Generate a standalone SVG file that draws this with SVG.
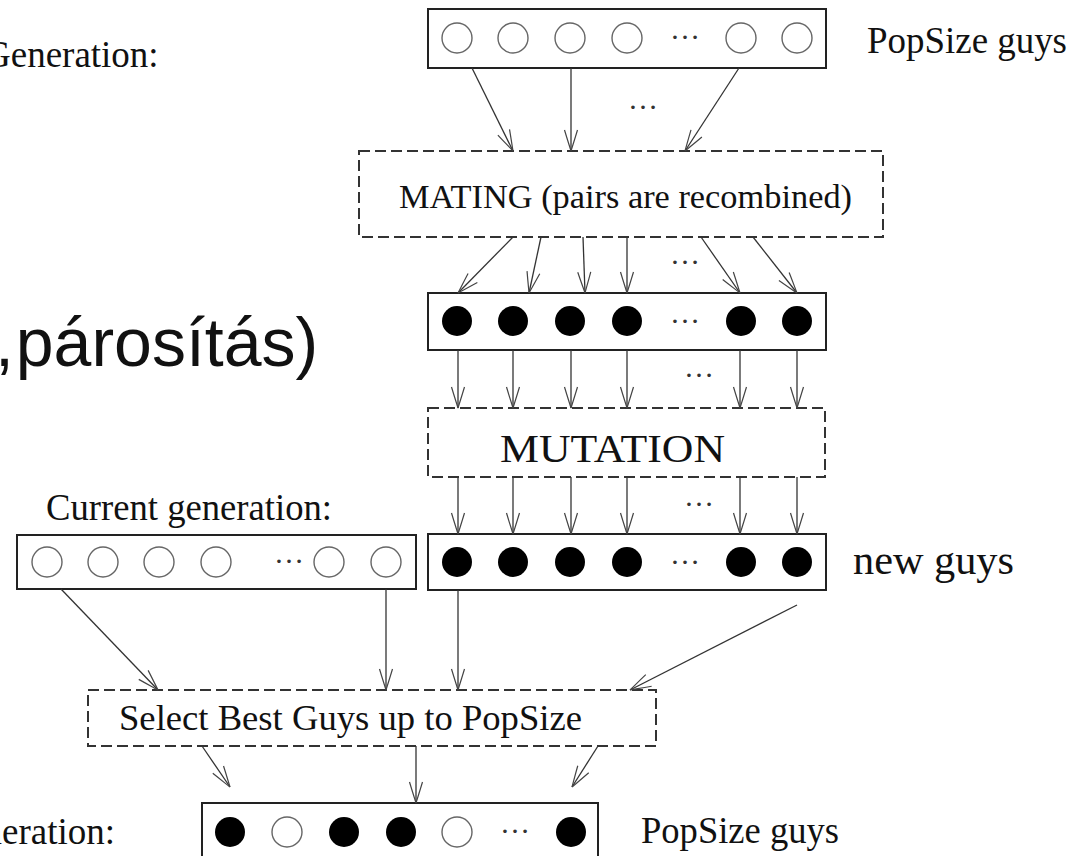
<svg xmlns="http://www.w3.org/2000/svg" width="1080" height="856" viewBox="0 0 1080 856">
<style>
.t{font-family:"Liberation Serif","Times New Roman",serif;fill:#111}
.s{font-family:"Liberation Sans",Arial,sans-serif;fill:#111}
.box{fill:#fff;stroke:#222;stroke-width:2}
.dbox{fill:#fff;stroke:#333;stroke-width:2;stroke-dasharray:11 5}
.e{fill:#fff;stroke:#666;stroke-width:1.4}
.f{fill:#000}
.c{stroke:#333;stroke-width:1.3;fill:none;marker-end:url(#ah)}
.d{font-family:"Liberation Serif",serif;font-size:30px;fill:#333;text-anchor:middle}
</style>
<defs>
<marker id="ah" markerUnits="userSpaceOnUse" viewBox="-24 -9 26 18" markerWidth="26" markerHeight="18" refX="0" refY="0" orient="auto" overflow="visible">
<path d="M-21,-6.5 C-11,-3.5 -4,-1.2 0,0 M-21,6.5 C-11,3.5 -4,1.2 0,0" fill="none" stroke="#444" stroke-width="1.2"/>
</marker>
</defs>
<rect width="1080" height="856" fill="#fff"/>

<g id="labels">
<text class="t" x="-16" y="67" font-size="37">Generation:</text>
<text class="s" x="-5" y="366" font-size="68" word-spacing="-17">, párosítás)</text>
<text class="t" x="46" y="520" font-size="37" textLength="286" lengthAdjust="spacingAndGlyphs">Current generation:</text>
<text class="t" x="115" y="844" font-size="37" text-anchor="end">Generation:</text>
</g>

<g id="pop-top">
<rect class="box" x="428" y="9" width="398" height="59"/>
<circle class="e" cx="457" cy="38" r="15"/>
<circle class="e" cx="513" cy="38" r="15"/>
<circle class="e" cx="570" cy="38" r="15"/>
<circle class="e" cx="627" cy="38" r="15"/>
<text class="d" x="685" y="39">…</text>
<circle class="e" cx="741" cy="38" r="15"/>
<circle class="e" cx="797" cy="38" r="15"/>
<text class="t" x="867" y="53" font-size="37" textLength="200" lengthAdjust="spacingAndGlyphs">PopSize guys</text>
</g>

<g id="mating">
<rect class="dbox" x="359" y="151" width="524" height="86"/>
<text class="t" x="399" y="208" font-size="34" textLength="453" lengthAdjust="spacingAndGlyphs">MATING (pairs are recombined)</text>
</g>

<g id="offspring">
<rect class="box" x="428" y="293" width="398" height="57"/>
<circle class="f" cx="457" cy="321" r="15"/>
<circle class="f" cx="513" cy="321" r="15"/>
<circle class="f" cx="570" cy="321" r="15"/>
<circle class="f" cx="627" cy="321" r="15"/>
<text class="d" x="685" y="323">…</text>
<circle class="f" cx="741" cy="321" r="15"/>
<circle class="f" cx="797" cy="321" r="15"/>
</g>

<g id="mutation">
<rect class="dbox" x="428" y="408" width="397" height="69"/>
<text class="t" x="500" y="462" font-size="41" textLength="225" lengthAdjust="spacingAndGlyphs">MUTATION</text>
</g>

<g id="current">
<rect class="box" x="17" y="535" width="399" height="54"/>
<circle class="e" cx="47" cy="562" r="15"/>
<circle class="e" cx="103" cy="562" r="15"/>
<circle class="e" cx="159" cy="562" r="15"/>
<circle class="e" cx="216" cy="562" r="15"/>
<text class="d" x="289" y="563">…</text>
<circle class="e" cx="329" cy="562" r="15"/>
<circle class="e" cx="386" cy="562" r="15"/>
</g>

<g id="newguys">
<rect class="box" x="428" y="534" width="398" height="56"/>
<circle class="f" cx="457" cy="562" r="15"/>
<circle class="f" cx="513" cy="562" r="15"/>
<circle class="f" cx="570" cy="562" r="15"/>
<circle class="f" cx="627" cy="562" r="15"/>
<text class="d" x="685" y="564">…</text>
<circle class="f" cx="741" cy="562" r="15"/>
<circle class="f" cx="797" cy="562" r="15"/>
<text class="t" x="853" y="574" font-size="42" textLength="161" lengthAdjust="spacingAndGlyphs">new guys</text>
</g>

<g id="select">
<rect class="dbox" x="88" y="690" width="568" height="56"/>
<text class="t" x="119" y="730" font-size="36.6" textLength="463" lengthAdjust="spacingAndGlyphs">Select Best Guys up to PopSize</text>
</g>

<g id="next">
<rect class="box" x="202" y="803" width="396" height="70"/>
<circle class="f" cx="230" cy="832" r="15"/>
<circle class="e" cx="287" cy="832" r="15"/>
<circle class="f" cx="344" cy="832" r="15"/>
<circle class="f" cx="401" cy="832" r="15"/>
<circle class="e" cx="457" cy="832" r="15"/>
<text class="d" x="515" y="833">…</text>
<circle class="f" cx="571" cy="832" r="15"/>
<text class="t" x="641" y="843" font-size="37" textLength="198" lengthAdjust="spacingAndGlyphs">PopSize guys</text>
</g>

<g id="connectors">
<line class="c" x1="472" y1="68" x2="513" y2="151"/>
<line class="c" x1="571" y1="68" x2="571" y2="151"/>
<line class="c" x1="739" y1="68" x2="685" y2="151"/>
<text class="d" x="643" y="109">…</text>

<line class="c" x1="513" y1="237" x2="458" y2="293"/>
<line class="c" x1="541" y1="237" x2="529" y2="293"/>
<line class="c" x1="583" y1="237" x2="585" y2="293"/>
<line class="c" x1="627" y1="237" x2="627" y2="293"/>
<line class="c" x1="701" y1="237" x2="740" y2="293"/>
<line class="c" x1="753" y1="237" x2="797" y2="293"/>
<text class="d" x="685" y="264">…</text>

<line class="c" x1="458" y1="350" x2="458" y2="408"/>
<line class="c" x1="513" y1="350" x2="513" y2="408"/>
<line class="c" x1="571" y1="350" x2="571" y2="408"/>
<line class="c" x1="627" y1="350" x2="627" y2="408"/>
<line class="c" x1="740" y1="350" x2="740" y2="408"/>
<line class="c" x1="797" y1="350" x2="797" y2="408"/>
<text class="d" x="699" y="377">…</text>

<line class="c" x1="458" y1="477" x2="458" y2="534"/>
<line class="c" x1="513" y1="477" x2="513" y2="534"/>
<line class="c" x1="571" y1="477" x2="571" y2="534"/>
<line class="c" x1="627" y1="477" x2="627" y2="534"/>
<line class="c" x1="740" y1="477" x2="740" y2="534"/>
<line class="c" x1="797" y1="477" x2="797" y2="534"/>
<text class="d" x="699" y="506">…</text>

<line class="c" x1="61" y1="589" x2="158" y2="690"/>
<line class="c" x1="386" y1="589" x2="386" y2="690"/>
<line class="c" x1="458" y1="590" x2="458" y2="690"/>
<line class="c" x1="797" y1="605" x2="630" y2="690"/>

<line class="c" x1="202" y1="746" x2="230" y2="787"/>
<line class="c" x1="416" y1="746" x2="416" y2="803"/>
<line class="c" x1="598" y1="746" x2="572" y2="787"/>
</g>
</svg>
